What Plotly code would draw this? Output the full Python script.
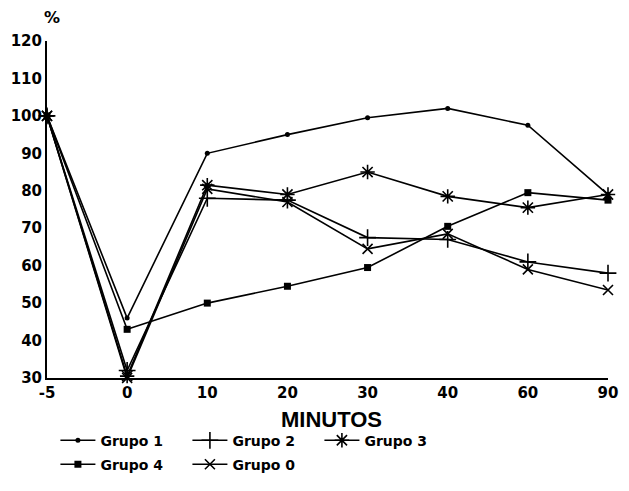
import plotly.graph_objects as go

categorias = ["-5", "0", "10", "20", "30", "40", "60", "90"]
grupo1 = [100, 46, 90, 95, 99.5, 102, 97.5, 79]
grupo2 = [100, 32, 78, 77.5, 67.5, 67, 61, 58]
grupo3 = [100, 30.5, 81.5, 79, 85, 78.5, 75.5, 79]
grupo4 = [100, 43, 50, 54.5, 59.5, 70.5, 79.5, 77.5]
grupo0 = [100, 30, 80.5, 77, 64.5, 68.5, 59, 53.5]
y_ticks = [30, 40, 50, 60, 70, 80, 90, 100, 110, 120]

xpos = list(range(len(categorias)))
TICKFONT = dict(family="DejaVu Sans", size=15, color="black", weight="bold")
LEGFONT = dict(family="DejaVu Sans", size=14, color="black", weight="bold")

series = [
    ("Grupo 1", grupo1, dict(symbol="circle", size=5), "legend"),
    ("Grupo 2", grupo2, dict(symbol="cross-thin-open", size=12, line=dict(width=1.6, color="black")), "legend"),
    ("Grupo 3", grupo3, dict(symbol="asterisk-open", size=12, line=dict(width=1.6, color="black")), "legend"),
    ("Grupo 4", grupo4, dict(symbol="square", size=7), "legend2"),
    ("Grupo 0", grupo0, dict(symbol="x-thin-open", size=10, line=dict(width=1.6, color="black")), "legend2"),
]

fig = go.Figure()
for name, vals, mk, leg in series:
    mk = dict(mk)
    mk["color"] = "black"
    fig.add_trace(go.Scatter(
        x=xpos, y=vals, mode="lines+markers", name=name,
        line=dict(color="black", width=1.6), marker=mk,
        cliponaxis=False, legend=leg,
    ))

fig.update_layout(
    width=629, height=491,
    margin=dict(l=46, r=11, t=41, b=111),
    paper_bgcolor="white", plot_bgcolor="white",
    showlegend=True,
    legend=dict(orientation="h", x=0.015, xanchor="left", y=-0.186, yanchor="middle",
                font=LEGFONT, entrywidth=82, itemwidth=35, bgcolor="rgba(0,0,0,0)"),
    legend2=dict(orientation="h", x=0.015, xanchor="left", y=-0.257, yanchor="middle",
                 font=LEGFONT, entrywidth=82, itemwidth=35, bgcolor="rgba(0,0,0,0)"),
    annotations=[
        dict(text="%", x=0, xref="paper", xanchor="center", xshift=5,
             y=120, yref="y", yanchor="middle", yshift=24, showarrow=False,
             font=dict(family="DejaVu Sans", size=16, color="black", weight="bold")),
        dict(text="MINUTOS", x=0.5, xref="paper", xanchor="center", xshift=4,
             y=30, yref="y", yanchor="middle", yshift=-41, showarrow=False,
             font=dict(family="Liberation Sans", size=22, color="black", weight="bold")),
    ],
)
fig.update_xaxes(
    range=[0, 7], tickmode="array", tickvals=xpos, ticktext=categorias,
    showline=True, linecolor="black", linewidth=2, showgrid=False, zeroline=False,
    ticks="", tickfont=TICKFONT,
)
fig.update_yaxes(
    range=[30, 120], tickmode="array", tickvals=y_ticks,
    showline=True, linecolor="black", linewidth=2, showgrid=False, zeroline=False,
    ticks="", tickfont=TICKFONT,
)

fig.write_html("out.html")
